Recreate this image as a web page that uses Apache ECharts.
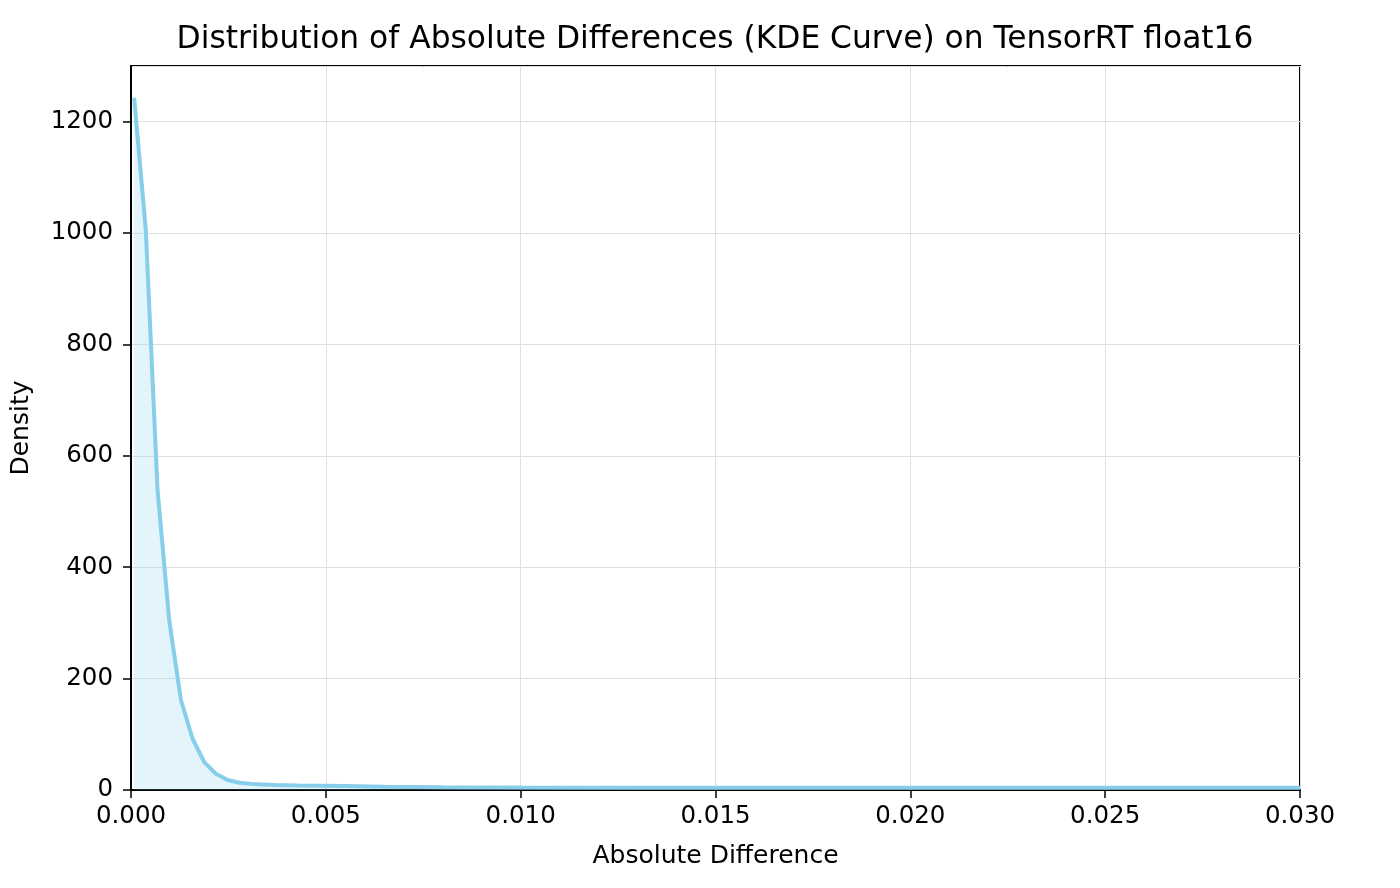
<!DOCTYPE html>
<html>
<head>
<meta charset="utf-8">
<script src="https://cdn.jsdelivr.net/npm/echarts@6/dist/echarts.min.js"></script>
<style>html,body{margin:0;padding:0;background:#fff}#c{width:1400px;height:888px}</style>
</head>
<body>
<div id="c"></div>
<script>
const titleText = 'Distribution of Absolute Differences (KDE Curve) on TensorRT float16';
const xName = 'Absolute Difference';
const yName = 'Density';
const kdeX = [0.00008,0.00038,0.00068,0.00098,0.00128,0.00158,0.00188,0.00218,0.00248,0.00278,0.00308,0.00338,0.00368,0.00398,0.00428,0.00488,0.0055,0.0065,0.008,0.010,0.013,0.020,0.025,0.030];
const kdeY = [1243,1005,540,305,162,92,50,29,18,13,11,10,9,8.5,8,7.5,7,6,5,4.5,4,4,4,4];
const xTicks = [0,0.005,0.010,0.015,0.020,0.025,0.030];
const yTicks = [0,200,400,600,800,1000,1200];

const font = 'DejaVu Sans';
const chart = echarts.init(document.getElementById('c'));
chart.setOption({
  animation:false,
  backgroundColor:'#fff',
  title:{text:titleText,left:710,textAlign:'center',top:19,textStyle:{fontFamily:font,fontSize:31.3,fontWeight:'normal',color:'#000'}},
  grid:{left:131,right:100,top:66,bottom:98,show:true,borderColor:'#000',borderWidth:2,backgroundColor:'transparent'},
  xAxis:{type:'value',min:xTicks[0],max:xTicks[xTicks.length-1],interval:0.005,
    name:xName,nameLocation:'middle',nameGap:54,nameTextStyle:{fontFamily:font,fontSize:25,color:'#000'},
    axisLine:{show:true,onZero:false,lineStyle:{color:'#000',width:2}},
    axisTick:{show:true,length:8,lineStyle:{color:'#000',width:1.5}},
    axisLabel:{fontFamily:font,fontSize:24.5,color:'#000',margin:14,formatter:v=>v.toFixed(3)},
    splitLine:{show:true,lineStyle:{color:'#e0e0e0',width:1}}},
  yAxis:{type:'value',min:0,max:1300,interval:200,
    name:yName,nameLocation:'middle',nameGap:97,nameTextStyle:{fontFamily:font,fontSize:25,color:'#000'},
    axisLine:{show:true,lineStyle:{color:'#000',width:2}},
    axisTick:{show:true,length:8,lineStyle:{color:'#000',width:1.5}},
    axisLabel:{fontFamily:font,fontSize:24.5,color:'#000',margin:18,showMaxLabel:false,
      formatter:v=>yTicks.includes(v)?String(v):''},
    splitLine:{show:true,lineStyle:{color:'#e0e0e0',width:1}}},
  series:[{type:'line',data:kdeX.map((x,i)=>[x,kdeY[i]]),showSymbol:false,smooth:false,
    lineStyle:{color:'#87CEEB',width:4},
    areaStyle:{color:'rgba(135,206,235,0.32)',origin:'start'},z:1}]
});
</script>
</body>
</html>
